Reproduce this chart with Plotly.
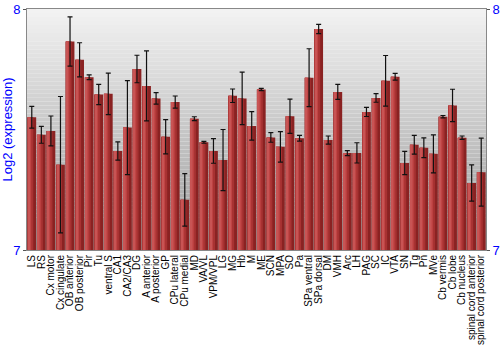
import plotly.graph_objects as go

categories = ["LS", "RS", "Cx motor", "Cx cingulate", "OB anterior", "OB posterior", "Pir", "Tu",
              "ventral S", "CA1", "CA2/CA3", "DG", "A anterior", "A posterior", "GP", "CPu lateral",
              "CPu medial", "MD", "VA/VL", "VPM/VPL", "LG", "MG", "Hb", "M", "ME", "SCN", "MPA", "SO",
              "Pa", "SPa ventral", "SPa dorsal", "DM", "VMH", "Arc", "LH", "PAG", "SC", "IC", "VTA",
              "SN", "Tg", "Pn", "MVe", "Cb vermis", "Cb lobe", "Cb nucleus", "spinal cord anterior",
              "spinal cord posterior"]

values = [7.551, 7.478, 7.494, 7.354, 7.865, 7.789, 7.717, 7.645,
          7.648, 7.411, 7.508, 7.751, 7.681, 7.629, 7.470, 7.614,
          7.208, 7.545, 7.447, 7.411, 7.373, 7.640, 7.629, 7.515, 7.666, 7.467, 7.428, 7.555,
          7.464, 7.715, 7.917, 7.456, 7.656, 7.402, 7.403, 7.573, 7.631, 7.702, 7.719,
          7.361, 7.437, 7.424, 7.399, 7.553, 7.600, 7.466, 7.278,
          7.323]

errors = [0.045, 0.035, 0.062, 0.283, 0.102, 0.071, 0.010, 0.042,
          0.086, 0.038, 0.195, 0.057, 0.145, 0.024, 0.071, 0.025,
          0.109, 0.008, 0.004, 0.051, 0.127, 0.028, 0.109, 0.059, 0.005, 0.020, 0.063, 0.071,
          0.012, 0.120, 0.019, 0.017, 0.031, 0.010, 0.042, 0.019, 0.018, 0.105, 0.014,
          0.048, 0.039, 0.041, 0.079, 0.005, 0.067, 0.007, 0.075,
          0.141]

fig = go.Figure()

# layered bars to imitate a horizontal shading
layers = [
    (0.92, -0.46, "#8a2222"),
    (0.62, -0.46, "#a83232"),
    (0.36, -0.42, "#c04444"),
    (0.16, -0.36, "#c85454"),
]
for w, off, col in layers:
    fig.add_trace(go.Bar(
        x=categories, y=values, width=w, offset=off,
        marker=dict(color=col, line=dict(width=0)),
        hoverinfo="skip", showlegend=False,
    ))

fig.add_trace(go.Scatter(
    x=categories, y=values, mode="markers",
    marker=dict(size=1, color="rgba(0,0,0,0)"),
    error_y=dict(type="data", array=errors, visible=True, color="#111111", thickness=1.2, width=2.5),
    showlegend=False, hoverinfo="skip",
))

fig.add_trace(go.Scatter(x=[categories[0]], y=[7.5], yaxis="y2", mode="markers",
                         marker=dict(size=1, color="rgba(0,0,0,0)"), showlegend=False, hoverinfo="skip"))

# background gradient
n = 60
top = (0xf2, 0xf2, 0xf2)
bot = (0x9c, 0x9c, 0x9c)
shapes = []
for i in range(n):
    t = i / (n - 1)
    c = tuple(int(round(top[k] + (bot[k] - top[k]) * t)) for k in range(3))
    shapes.append(dict(type="rect", xref="paper", yref="paper",
                       x0=0, x1=1, y0=1 - (i + 1) / n, y1=1 - i / n,
                       fillcolor="rgb(%d,%d,%d)" % c, line=dict(width=0), layer="below"))

fig.update_layout(
    width=500, height=350,
    margin=dict(l=27, r=14, t=9, b=100),
    barmode="overlay",
    paper_bgcolor="white",
    plot_bgcolor="rgba(0,0,0,0)",
    shapes=shapes,
    font=dict(family="Liberation Sans, Arial, sans-serif"),
    xaxis=dict(tickangle=-90, tickfont=dict(size=10, color="black"), showgrid=False,
               tickmode="array", tickvals=categories, ticktext=categories,
               showline=True, linecolor="#888888", linewidth=1, mirror=True, ticks="",
               range=[-0.5, len(categories) - 0.5], automargin=False),
    yaxis=dict(range=[7, 8], tickvals=[7, 8], showgrid=False, zeroline=False,
               tickfont=dict(size=13, color="blue"),
               title=dict(text="Log2 (expression)", font=dict(size=13, color="blue"), standoff=2),
               showline=True, linecolor="#888888", linewidth=1, ticks="outside", ticklen=3,
               tickcolor="#555555", automargin=False),
    yaxis2=dict(range=[7, 8], tickvals=[7, 8], overlaying="y", side="right", showgrid=False,
                zeroline=False, tickfont=dict(size=13, color="blue"), showline=True,
                linecolor="#888888", ticks="outside", ticklen=3, tickcolor="#555555",
                automargin=False),
)

fig.write_html("out.html")
